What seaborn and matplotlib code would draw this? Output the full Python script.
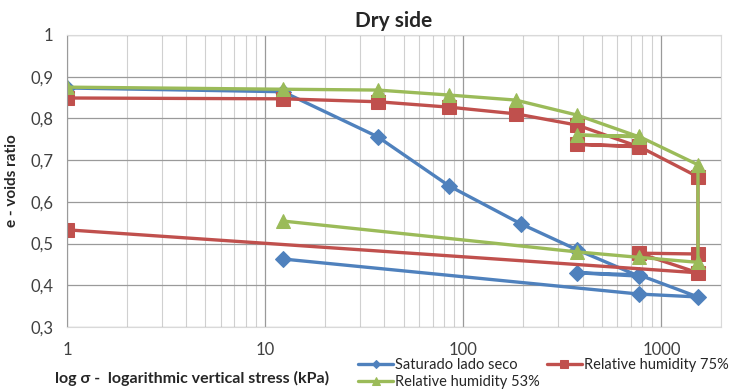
import matplotlib
matplotlib.use("Agg")
import matplotlib.pyplot as plt
import matplotlib.ticker as mticker
import pandas as pd
import seaborn as sns

# Vertical stress (kPa) and void ratio, in test order
sat_stress = [1, 12.3, 37, 85, 196, 376, 770, 376, 770, 1530, 770, 12.3]
sat_e = [0.873, 0.864, 0.756, 0.638, 0.547, 0.485, 0.422, 0.430, 0.425, 0.372, 0.379, 0.463]

rh75_stress = [1, 12.3, 37, 85, 184, 376, 770, 376, 770, 1530, 1530, 770, 1530, 1]
rh75_e = [0.849, 0.847, 0.840, 0.827, 0.811, 0.784, 0.732, 0.738, 0.733, 0.660, 0.475, 0.477, 0.430, 0.533]

rh53_stress = [1, 12.3, 37, 85, 184, 376, 770, 376, 770, 1530, 1530, 770, 376, 12.3]
rh53_e = [0.875, 0.870, 0.868, 0.856, 0.844, 0.808, 0.756, 0.760, 0.757, 0.689, 0.455, 0.467, 0.480, 0.554]

labels = ["Saturado lado seco", "Relative humidity 75%", "Relative humidity 53%"]
colors = ["#4F81BD", "#C0504D", "#9BBB59"]
markers = ["D", "s", "^"]
msizes = [8, 9.5, 10]

sns.set_style("white")
plt.rcParams['font.family'] = ['Lato', 'DejaVu Sans']

fig = plt.figure(figsize=(7.41, 3.92), dpi=100)
ax = fig.add_axes([67 / 741, 1 - 327 / 392, (721 - 67) / 741, (327 - 35) / 392])

series = [(sat_stress, sat_e), (rh75_stress, rh75_e), (rh53_stress, rh53_e)]
for (s, e), lab, c, m, ms in zip(series, labels, colors, markers, msizes):
    df = pd.DataFrame({"stress": s, "e": e})
    sns.lineplot(data=df, x="stress", y="e", sort=False, estimator=None, ax=ax,
                 color=c, marker=m, markersize=ms, markeredgecolor=c,
                 linewidth=2.4, label=lab, legend=False)

ax.set_xscale("log")
ax.set_xlim(1, 2000)
ax.set_ylim(0.3, 1.0)
ax.set_yticks([0.3, 0.4, 0.5, 0.6, 0.7, 0.8, 0.9, 1.0])
ax.yaxis.set_major_formatter(mticker.FuncFormatter(
    lambda v, p: "1" if abs(v - 1) < 1e-9 else f"{v:.1f}".replace(".", ",")))
ax.xaxis.set_major_locator(mticker.LogLocator(base=10))
ax.xaxis.set_major_formatter(mticker.FuncFormatter(lambda v, p: f"{v:g}"))
ax.xaxis.set_minor_locator(mticker.LogLocator(base=10, subs=range(2, 10)))
ax.xaxis.set_minor_formatter(mticker.NullFormatter())

ax.grid(True, which="major", color="#9a9a9a", linewidth=0.9)
ax.grid(True, which="minor", axis="x", color="#d0d0d0", linewidth=0.8)
ax.set_axisbelow(True)
for side in ["top", "right", "bottom"]:
    ax.spines[side].set_color("#d9d9d9")
ax.spines["left"].set_color("#9a9a9a")
ax.tick_params(axis="both", which="both", length=0, labelsize=12, colors="#404040")
ax.tick_params(axis="x", pad=11)
ax.tick_params(axis="y", pad=10)

ax.set_xlabel("")
ax.set_ylabel("e - voids ratio", fontsize=11, fontweight="bold", labelpad=8)
fig.text(55 / 741, 1 - 378 / 392, "log σ -  logarithmic vertical stress (kPa)",
         fontsize=11.5, fontweight="bold", va="center", ha="left")
ax.set_title("Dry side", fontsize=15, fontweight="bold", pad=6)

# Excel-style flowing legend: two entries on the first row, one on the second
h, l = ax.get_legend_handles_labels()
leg_kw = dict(loc="upper left", frameon=False, fontsize=10.5, handlelength=2.4,
              handletextpad=0.15, columnspacing=2.0, borderpad=0,
              borderaxespad=0, markerscale=0.55)
leg1 = fig.legend([h[0], h[1]], [l[0], l[1]], ncol=2,
                  bbox_to_anchor=(358 / 741, 1 - 358 / 392), **leg_kw)
leg2 = fig.legend([h[2]], [l[2]],
                  bbox_to_anchor=(358 / 741, 1 - 375 / 392), **leg_kw)

fig.savefig("out.png", dpi=100)
